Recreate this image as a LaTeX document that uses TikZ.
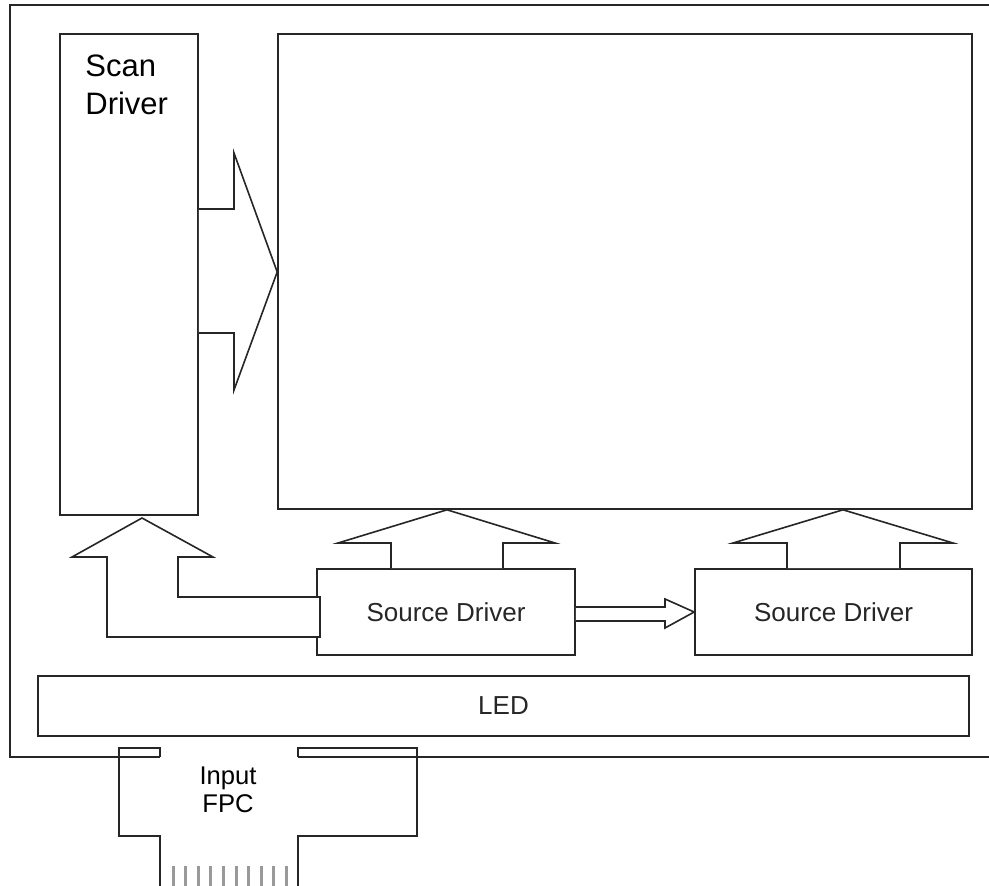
\documentclass[tikz,border=0pt]{standalone}
\usepackage{fontspec}
\setmainfont{Liberation Sans}
\usepackage{tikz}
\tikzstyle{outline}=[draw, line width=1.6pt, color=black!85, line join=miter]
\tikzstyle{block}=[outline, inner sep=0pt, text centered,
  font=\fontsize{26}{28}\selectfont]
\tikzstyle{label}=[inner sep=0pt, align=left]
\tikzstyle{fat}=[outline, fill=white]
\tikzstyle{pin}=[draw, line width=3pt, color=black!40]
\newcommand{\blockElt}[4]{node (#1) [block, minimum width=#2,
  minimum height=#3] {#4}}

\begin{document}
\begin{tikzpicture}[x=1pt, y=-1pt]
  \useasboundingbox (0,0) rectangle (989,886);

  % Draw the panel frame (open to the right)
  \draw[outline] (989,5) -- (10,5) -- (10,757) -- (160,757);
  \draw[outline] (298,757) -- (989,757);

  % Draw diagram elements
  \path (129,274.5) \blockElt{scan}{138}{481}{};
  \path (625,271.5) \blockElt{panel}{694}{475}{};
  \path (446,612) \blockElt{srcA}{258}{86}{Source Driver};
  \path (833.5,612) \blockElt{srcB}{277}{86}{Source Driver};
  \path (503.5,706) \blockElt{led}{931}{60}{LED};
  \path (scan.north west)+(26,21) node (scanlbl) [label, anchor=north west,
    font=\fontsize{31}{38}\selectfont] {Scan\\Driver};

  % Draw the wide arrows
  \draw[fat] (scan.east |- 0,209) -- (234,209) -- (234,153)
    -- (panel.west |- 0,272) -- (234,390) -- (234,333) -- (scan.east |- 0,333);
  \draw[fat] (srcA.north -| 391,0) -- (391,543) -- (338,543)
    -- (panel.south -| 447,0) -- (555,543) -- (503,543) -- (srcA.north -| 503,0);
  \draw[fat] (srcB.north -| 787,0) -- (787,543) -- (733,543)
    -- (panel.south -| 843,0) -- (953,543) -- (900,543) -- (srcB.north -| 900,0);
  \draw[fat] (srcA.east |- 0,607) -- (665,607) -- (665,599)
    -- (srcB.west) -- (665,628) -- (665,621) -- (srcA.east |- 0,621);
  \draw[fat] (320,637) -- (107,637) -- (107,557) -- (72,557)
    -- (142,518) -- (213,557) -- (178,557) -- (178,597) -- (320,597) -- cycle;

  % Draw the input flex cable
  \draw[outline] (160,757) -- (160,748) -- (119,748) -- (119,836)
    -- (160,836) -- (160,886);
  \draw[outline] (298,757) -- (298,748) -- (417,748) -- (417,836)
    -- (298,836) -- (298,886);
  \path (228,767) node (fpclbl) [label, align=center, anchor=north,
    font=\fontsize{25.6}{28}\selectfont] {Input\\FPC};
  \foreach \k in {0,...,9}
    \draw[pin] ({173+12.6*\k},866) -- ({173+12.6*\k},886);
\end{tikzpicture}
\end{document}
